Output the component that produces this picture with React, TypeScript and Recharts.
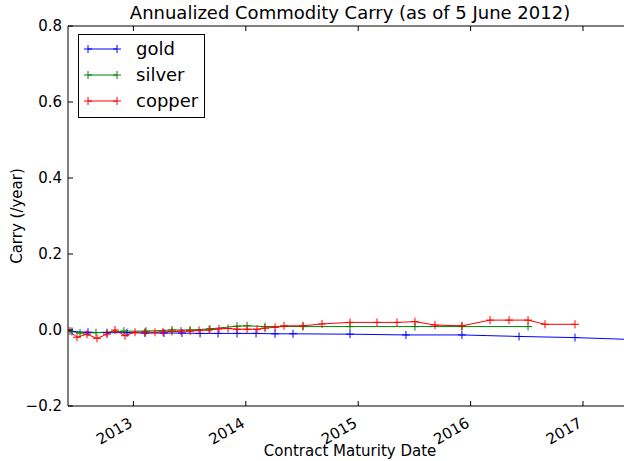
import React from "react";
import { LineChart, Line, XAxis, YAxis, ReferenceLine } from "recharts";

// contract maturity as decimal years, carry in 1/year
const goldDates = [
  2012.454, 2012.596, 2012.765, 2012.943, 2013.103, 2013.272, 2013.432, 2013.593,
  2013.753, 2013.922, 2014.091, 2014.26, 2014.42, 2014.927, 2015.425, 2015.923,
  2016.431, 2016.929, 2017.436,
];
const goldCarry = [
  -0.004, -0.006, -0.007, -0.007, -0.008, -0.008, -0.008, -0.009, -0.009, -0.009,
  -0.009, -0.01, -0.01, -0.011, -0.013, -0.013, -0.017, -0.02, -0.025,
];

const silverDates = [
  2012.436, 2012.525, 2012.667, 2012.916, 2013.112, 2013.343, 2013.504, 2013.681,
  2013.922, 2014.011, 2014.171, 2014.509, 2014.927, 2015.505, 2015.923, 2016.511,
];
const silverCarry = [
  -0.003, -0.008, -0.007, -0.003, -0.003, 0.0, 0.0, 0.003, 0.01, 0.011, 0.009,
  0.009, 0.009, 0.009, 0.009, 0.009,
];

const copperDates = [
  2012.418, 2012.498, 2012.587, 2012.676, 2012.765, 2012.836, 2012.925, 2013.014,
  2013.103, 2013.192, 2013.263, 2013.343, 2013.423, 2013.504, 2013.584, 2013.673,
  2013.762, 2013.842, 2013.922, 2014.011, 2014.1, 2014.171, 2014.26, 2014.34,
  2014.509, 2014.678, 2014.927, 2015.167, 2015.345, 2015.505, 2015.683, 2015.923,
  2016.173, 2016.342, 2016.511, 2016.662, 2016.929,
];
const copperCarry = [
  0.0, -0.019, -0.011, -0.022, -0.011, 0.0, -0.015, -0.006, -0.006, -0.006, -0.005,
  -0.004, -0.003, -0.003, -0.001, 0.0, 0.003, 0.004, 0.002, 0.002, 0.002, 0.005,
  0.007, 0.011, 0.011, 0.016, 0.02, 0.02, 0.02, 0.022, 0.013, 0.011, 0.026, 0.026,
  0.026, 0.015, 0.015,
];

const xTicks = [2013, 2014, 2015, 2016, 2017];
const yTicks = [-0.2, 0, 0.2, 0.4, 0.6, 0.8];

const toRows = (dates: number[], vals: number[]) =>
  dates.map((t, i) => ({ t, v: vals[i] }));

const goldData = toRows(goldDates, goldCarry);
const silverData = toRows(silverDates, silverCarry);
const copperData = toRows(copperDates, copperCarry);

const FONT = "DejaVu Sans, sans-serif";
const TOP = 26;

const plus = (color: string) => (props: any) => {
  const { cx, cy, index } = props;
  return (
    <path
      key={"m" + index}
      d={`M${cx - 4},${cy}H${cx + 4}M${cx},${cy - 4}V${cy + 4}`}
      stroke={color}
      strokeWidth={1}
      fill="none"
    />
  );
};

const XTick = (props: any) => {
  const { x, y, payload } = props;
  const ax = x;
  const ay = y + 20;
  return (
    <g>
      <line x1={x} y1={y} x2={x} y2={y - 5} stroke="#000" />
      <line x1={x} y1={TOP} x2={x} y2={TOP + 5} stroke="#000" />
      <text
        x={ax}
        y={ay}
        textAnchor="end"
        transform={`rotate(-30 ${ax} ${ay})`}
        fontSize={15}
        fontFamily={FONT}
        fill="#000"
      >
        {payload.value}
      </text>
    </g>
  );
};

const YTick = (props: any) => {
  const { x, y, payload } = props;
  const label = payload.value.toFixed(1).replace("-", "\u2212");
  return (
    <g>
      <line x1={x} y1={y} x2={x + 5} y2={y} stroke="#000" />
      <text
        x={x - 6}
        y={y}
        dy="0.36em"
        textAnchor="end"
        fontSize={15}
        fontFamily={FONT}
        fill="#000"
      >
        {label}
      </text>
    </g>
  );
};

const legendItems = [
  { name: "gold", color: "#0000ff" },
  { name: "silver", color: "#008000" },
  { name: "copper", color: "#ff0000" },
];

export default function App() {
  return (
    <div
      style={{
        position: "absolute",
        left: 0,
        top: 0,
        width: 624,
        height: 461,
        overflow: "hidden",
        background: "#fff",
      }}
    >
      <LineChart
        width={632}
        height={461}
        margin={{ top: TOP, right: 0, left: 0, bottom: 0 }}
      >
        <XAxis
          type="number"
          dataKey="t"
          domain={[2012.418, 2017.436]}
          allowDataOverflow
          ticks={xTicks}
          tick={<XTick />}
          tickLine={false}
          tickSize={0}
          tickMargin={0}
          axisLine={{ stroke: "#000" }}
          height={55}
        />
        <YAxis
          type="number"
          domain={[-0.2, 0.8]}
          ticks={yTicks}
          tick={<YTick />}
          tickLine={false}
          tickSize={0}
          tickMargin={0}
          axisLine={{ stroke: "#000" }}
          width={68}
        />
        <ReferenceLine y={0.8} stroke="#000" />
        <Line
          data={goldData}
          dataKey="v"
          stroke="#0000ff"
          strokeWidth={1}
          dot={plus("#0000ff")}
          activeDot={false}
          isAnimationActive={false}
        />
        <Line
          data={silverData}
          dataKey="v"
          stroke="#008000"
          strokeWidth={1}
          dot={plus("#008000")}
          activeDot={false}
          isAnimationActive={false}
        />
        <Line
          data={copperData}
          dataKey="v"
          stroke="#ff0000"
          strokeWidth={1}
          dot={plus("#ff0000")}
          activeDot={false}
          isAnimationActive={false}
        />
      </LineChart>
      <svg
        width={624}
        height={461}
        style={{ position: "absolute", left: 0, top: 0, pointerEvents: "none" }}
        fontFamily={FONT}
      >
        <text x={350} y={19} textAnchor="middle" fontSize={18} fill="#000">
          Annualized Commodity Carry (as of 5 June 2012)
        </text>
        <text x={350} y={456} textAnchor="middle" fontSize={15} fill="#000">
          Contract Maturity Date
        </text>
        <text
          x={22}
          y={216}
          textAnchor="middle"
          transform="rotate(-90 22 216)"
          fontSize={15}
          fill="#000"
        >
          Carry (/year)
        </text>
        <rect x={78.5} y={34.5} width={126} height={83} fill="#fff" stroke="#000" />
        {legendItems.map((it, i) => {
          const ly = 49 + i * 26;
          return (
            <g key={it.name}>
              <line x1={88} y1={ly} x2={117} y2={ly} stroke={it.color} />
              <path
                d={`M84,${ly}H92M88,${ly - 4}V${ly + 4}M113,${ly}H121M117,${ly - 4}V${ly + 4}`}
                stroke={it.color}
              />
              <text x={136} y={ly + 6} fontSize={18} fill="#000">
                {it.name}
              </text>
            </g>
          );
        })}
      </svg>
    </div>
  );
}
